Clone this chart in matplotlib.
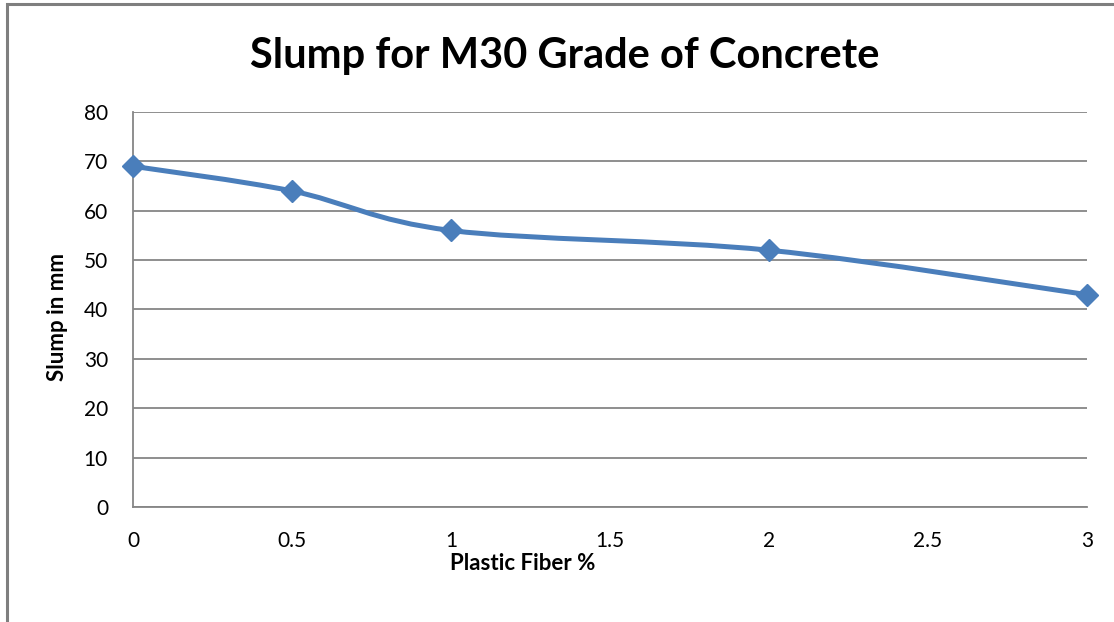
import matplotlib
matplotlib.use("Agg")
import matplotlib.pyplot as plt
from matplotlib.path import Path
from matplotlib.patches import PathPatch, Rectangle

fiber_pct = [0, 0.5, 1, 2, 3]
slump_mm = [69, 64, 56, 52, 43]
x_ticks = [0, 0.5, 1, 1.5, 2, 2.5, 3]
x_tick_labels = ['0', '0.5', '1', '1.5', '2', '2.5', '3']
y_ticks = [0, 10, 20, 30, 40, 50, 60, 70, 80]

blue = '#4A7EBB'
grey = '#868686'

plt.rcParams['font.family'] = ['Lato', 'DejaVu Sans']

fig = plt.figure(figsize=(11.14, 6.22), dpi=100)
ax = fig.add_axes([0.1194, 0.1849, 0.8564, 0.6351])

# excel-like smoothed line: bezier through the points
pts = list(zip(fiber_pct, slump_mm))
verts = [pts[0]]
codes = [Path.MOVETO]
for i in range(len(pts) - 1):
    p0 = pts[i - 1] if i > 0 else pts[i]
    p1 = pts[i]
    p2 = pts[i + 1]
    p3 = pts[i + 2] if i + 2 < len(pts) else pts[i + 1]
    c1 = (p1[0] + (p2[0] - p0[0]) / 6, p1[1] + (p2[1] - p0[1]) / 6)
    c2 = (p2[0] - (p3[0] - p1[0]) / 6, p2[1] - (p3[1] - p1[1]) / 6)
    verts += [c1, c2, p2]
    codes += [Path.CURVE4] * 3
ax.add_patch(PathPatch(Path(verts, codes), fill=False, edgecolor=blue,
                       lw=3.6, capstyle='round', zorder=3))
ax.plot(fiber_pct, slump_mm, linestyle='none', marker='D', markersize=11,
        color=blue, clip_on=False, zorder=4)

ax.set_xlim(0, 3)
ax.set_ylim(0, 80)
ax.set_xticks(x_ticks)
ax.set_xticklabels(x_tick_labels)
ax.set_yticks(y_ticks)
ax.tick_params(axis='both', length=0, labelsize=15, colors='black')
ax.tick_params(axis='x', pad=17)
ax.tick_params(axis='y', pad=18)
ax.grid(axis='y', color=grey, lw=1.3)
ax.set_axisbelow(True)
for s in ['top', 'right']:
    ax.spines[s].set_visible(False)
for s in ['left', 'bottom']:
    ax.spines[s].set_color(grey)
    ax.spines[s].set_linewidth(1.3)

fig.text(0.507, 0.91, 'Slump for M30 Grade of Concrete', ha='center', va='center',
         fontsize=30, fontweight='bold')
fig.text(0.469, 0.094, 'Plastic Fiber %', ha='center', va='center',
         fontsize=16, fontweight='bold')
fig.text(0.052, 0.49, 'Slump in mm', ha='center', va='center', rotation=90,
         fontsize=16, fontweight='bold')

# outer chart border (only top and left visible in the crop)
fig.patches.append(Rectangle((0.0065, -0.5), 1.5, 1.4935, transform=fig.transFigure,
                             fill=False, edgecolor='#7f7f7f', lw=2.2))

fig.savefig('out.png', dpi=100)
